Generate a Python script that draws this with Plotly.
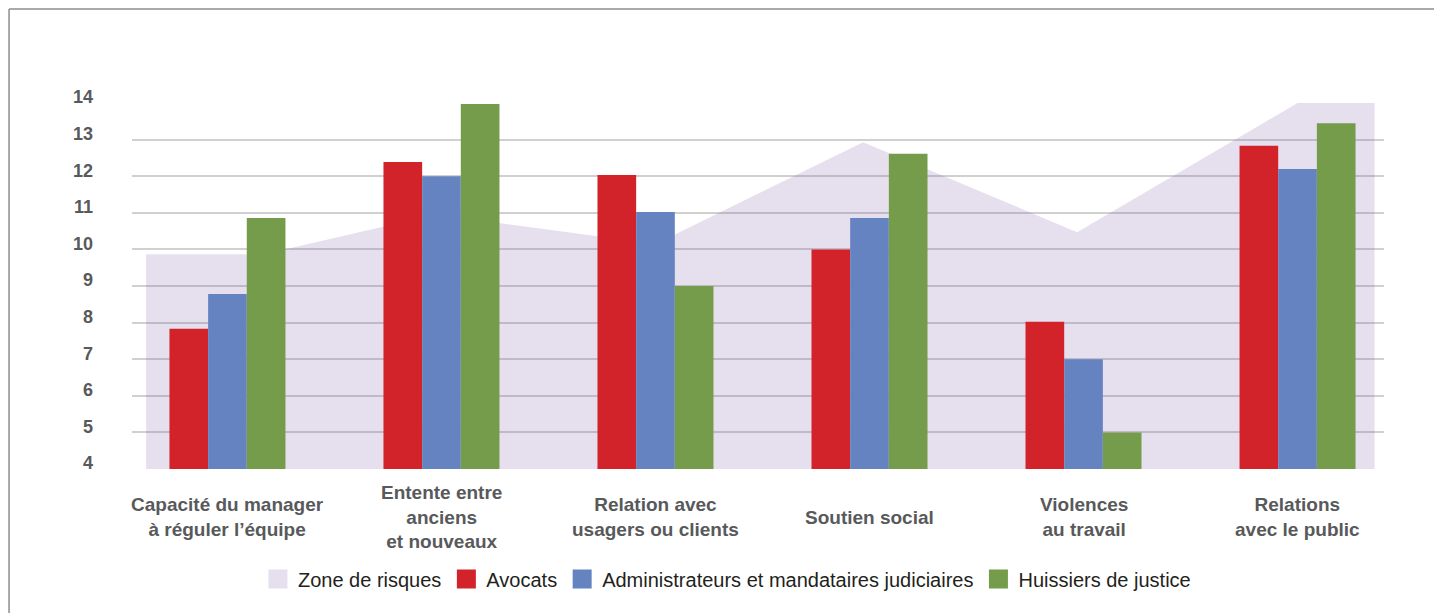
import plotly.graph_objects as go

# ---------------- data ----------------
categories = [
    "Capacité du manager<br>à réguler l’équipe",
    "Entente entre<br>anciens<br>et nouveaux",
    "Relation avec<br>usagers ou clients",
    "Soutien social",
    "Violences<br>au travail",
    "Relations<br>avec le public",
]
avocats = [7.83, 12.39, 12.03, 10.0, 8.02, 12.83]
administrateurs = [8.78, 12.0, 11.02, 10.86, 7.0, 12.2]
huissiers = [10.86, 13.97, 9.0, 12.61, 5.0, 13.45]
zone_x = [-0.38, 0.17, 0.97, 2.0, 2.97, 3.97, 5.0, 5.36]
zone_y = [9.87, 9.87, 10.95, 10.15, 12.93, 10.47, 14.0, 14.0]
y_ticks = list(range(4, 15))
series_names = ["Zone de risques", "Avocats",
                "Administrateurs et mandataires judiciaires", "Huissiers de justice"]

# ---------------- styles ----------------
FONT = "Liberation Sans, Arial, sans-serif"
C_ZONE = "#e6dfee"
C_ZONE_FILL = "rgba(130,95,170,0.2)"
C_RED = "#d2232a"
C_BLUE = "#6583c1"
C_GREEN = "#759c4a"
LABEL_GRAY = "#58595b"
XRANGE = [-0.446, 5.404]

fig = go.Figure()

# risk zone (area) on the numeric x axis
fig.add_trace(go.Scatter(
    x=zone_x, y=zone_y, xaxis="x", yaxis="y",
    mode="lines", fill="tozeroy", fillcolor=C_ZONE_FILL,
    line=dict(width=0, color=C_ZONE), name=series_names[0],
    legendgroup="zone", showlegend=False, hoverinfo="skip",
))

# bars on the categorical overlay axis
for name, vals, col in [(series_names[1], avocats, C_RED),
                        (series_names[2], administrateurs, C_BLUE),
                        (series_names[3], huissiers, C_GREEN)]:
    fig.add_trace(go.Bar(
        x=categories, y=vals, xaxis="x2", yaxis="y",
        name=name, marker=dict(color=col, line=dict(width=0)),
        legendgroup=name, showlegend=False,
    ))

# legend entries (square swatches)
for name, col in zip(series_names, [C_ZONE, C_RED, C_BLUE, C_GREEN]):
    fig.add_trace(go.Scatter(
        x=[None], y=[None], mode="markers", name=name,
        legendgroup="zone" if name == series_names[0] else name,
        marker=dict(symbol="square", size=16, color=col, line=dict(width=3, color=col)),
        showlegend=True, hoverinfo="skip",
    ))

# category labels, vertically centred
annotations = []
for cat in categories:
    annotations.append(dict(
        x=cat, xref="x2", y=-0.1312, yref="paper",
        text=cat, showarrow=False, xanchor="center", yanchor="middle", align="center",
        font=dict(family=FONT, size=19, color=LABEL_GRAY, weight="bold"),
    ))

shapes = [
    dict(type="line", xref="paper", yref="paper", x0=-0.0982, x1=1.1, y0=1.2568, y1=1.2568,
         line=dict(color="#8c8c8c", width=1.5)),
    dict(type="line", xref="paper", yref="paper", x0=-0.0982, x1=-0.0982, y0=1.2568, y1=-0.45,
         line=dict(color="#8c8c8c", width=1.5)),
]

fig.update_layout(
    width=1434, height=613,
    margin=dict(l=132, r=50, t=103, b=144, pad=0),
    paper_bgcolor="white", plot_bgcolor="white",
    barmode="group", bargap=0.458, bargroupgap=0,
    font=dict(family=FONT, color=LABEL_GRAY),
    xaxis=dict(range=XRANGE, visible=False, fixedrange=True),
    xaxis2=dict(type="category", categoryorder="array", categoryarray=categories,
                range=XRANGE, overlaying="x", visible=False, fixedrange=True),
    yaxis=dict(range=[4, 14], tickvals=y_ticks, showgrid=True, gridcolor="#d0d0d0",
               gridwidth=1.5, zeroline=False, showline=False, ticks="",
               tickfont=dict(family=FONT, size=18, color=LABEL_GRAY, weight="bold"),
               ticklabelstandoff=38, ticklabelshift=-6, fixedrange=True),
    legend=dict(orientation="h", x=0.4752, xanchor="center", y=-0.3005, yanchor="middle",
                font=dict(family=FONT, size=20, color="#231f20"),
                bgcolor="rgba(0,0,0,0)", itemwidth=30, traceorder="normal"),
    annotations=annotations,
    shapes=shapes,
    showlegend=True,
)

fig.write_html("out.html", config={"displayModeBar": False},
               post_script="document.body.style.margin='0';document.body.style.overflow='hidden';")
